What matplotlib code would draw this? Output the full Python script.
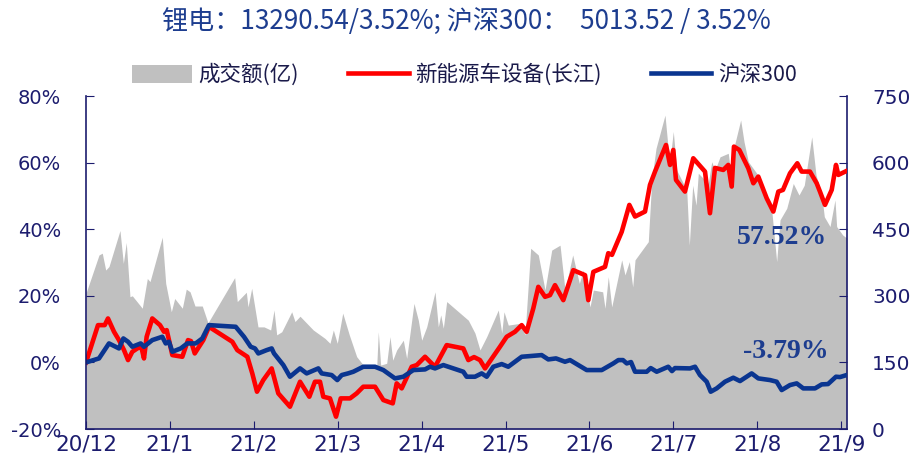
import matplotlib
matplotlib.use("Agg")
import matplotlib.pyplot as plt
from matplotlib.patches import Patch
from matplotlib.lines import Line2D

plt.rcParams['font.family'] = ['Noto Sans CJK SC', 'DejaVu Sans']

# time axis in months since 2020-12 (0 = 20/12, 9 = 21/9)
month_labels = ['20/12', '21/1', '21/2', '21/3', '21/4', '21/5', '21/6', '21/7', '21/8', '21/9']

# turnover (亿)
vol_t = [0.00, 0.155, 0.194, 0.235, 0.274, 0.405, 0.445, 0.48, 0.524, 0.552, 0.671, 0.731,
         0.763, 0.909, 0.95, 1.017, 1.057, 1.148, 1.195, 1.24, 1.299, 1.386, 1.454, 1.772,
         1.803, 1.911, 1.931, 1.975, 2.05, 2.122, 2.201, 2.241, 2.273, 2.333, 2.452, 2.491,
         2.551, 2.709, 2.849, 2.908, 2.948, 2.995, 3.06, 3.138, 3.226, 3.305, 3.465, 3.484,
         3.512, 3.584, 3.623, 3.656, 3.703, 3.782, 3.822, 3.909, 3.961, 4.001, 4.061, 4.16,
         4.199, 4.228, 4.259, 4.299, 4.557, 4.636, 4.696, 4.776, 4.914, 4.955, 4.982, 5.033,
         5.173, 5.232, 5.30, 5.391, 5.471, 5.551, 5.65, 5.709, 5.801, 5.88, 5.927, 6.007,
         6.047, 6.158, 6.186, 6.225, 6.266, 6.385, 6.424, 6.476, 6.516, 6.544, 6.702, 6.743,
         6.794, 6.901, 6.933, 6.961, 7.0, 7.041, 7.16, 7.191, 7.231, 7.271, 7.298, 7.417,
         7.458, 7.497, 7.557, 7.655, 7.684, 7.71, 7.803, 7.843, 7.894, 7.994, 8.073, 8.173,
         8.232, 8.272, 8.352, 8.43, 8.498, 8.561, 8.65, 8.701, 8.769, 8.8, 8.868, 8.927,
         8.947, 9.019, 9.067]
vol_v = [306, 392, 396, 358, 366, 447, 373, 420, 298, 300, 272, 339,
         332, 432, 328, 264, 294, 272, 315, 309, 277, 277, 239, 341,
         287, 308, 275, 317, 230, 230, 223, 268, 212, 219, 264, 242,
         254, 223, 204, 193, 223, 193, 261, 212, 163, 144, 140, 219,
         144, 148, 208, 155, 178, 200, 159, 283, 245, 200, 230, 309,
         230, 257, 227, 287, 245, 216, 178, 208, 268, 216, 264, 234,
         238, 212, 407, 392, 313, 403, 414, 313, 392, 328, 358, 275,
         313, 309, 272, 343, 275, 381, 347, 377, 320, 381, 422, 561,
         632, 707, 643, 606, 670, 583, 538, 414, 549, 504, 576, 553,
         602, 583, 613, 621, 579, 624, 696, 647, 602, 576, 546, 493,
         377, 471, 497, 553, 527, 549, 658, 572, 527, 478, 456, 516,
         456, 437, 430]

# 新能源车设备(长江), cumulative return %
ev_t = [0.0, 0.143, 0.223, 0.262, 0.334, 0.393, 0.453, 0.501, 0.552, 0.611, 0.659, 0.691,
        0.723, 0.79, 0.882, 0.93, 0.962, 0.989, 1.029, 1.148, 1.216, 1.251, 1.296, 1.398,
        1.466, 1.744, 1.803, 1.923, 1.982, 2.038, 2.113, 2.213, 2.292, 2.431, 2.551, 2.662,
        2.729, 2.789, 2.828, 2.908, 2.98, 3.036, 3.147, 3.226, 3.305, 3.445, 3.544, 3.656,
        3.703, 3.763, 3.882, 3.942, 4.041, 4.1, 4.16, 4.299, 4.497, 4.557, 4.625, 4.696,
        4.756, 4.934, 5.014, 5.113, 5.193, 5.252, 5.331, 5.391, 5.471, 5.53, 5.59, 5.689,
        5.808, 5.948, 5.987, 6.047, 6.186, 6.225, 6.269, 6.385, 6.476, 6.544, 6.663, 6.722,
        6.782, 6.913, 6.961, 7.0, 7.032, 7.139, 7.238, 7.378, 7.437, 7.497, 7.596, 7.655,
        7.696, 7.723, 7.787, 7.894, 7.954, 8.013, 8.113, 8.192, 8.252, 8.307, 8.391, 8.478,
        8.53, 8.629, 8.709, 8.748, 8.808, 8.888, 8.939, 8.967, 9.067]
ev_v = [0.0, 11.2, 11.2, 13.2, 9.2, 6.7, 3.7, 0.7, 3.2, 4.2, 4.7, 1.2,
        7.7, 13.2, 11.2, 9.2, 9.7, 6.7, 2.2, 1.7, 6.7, 6.4, 2.7, 6.7,
        10.7, 6.2, 3.7, 1.7, -3.3, -8.8, -5.3, -1.8, -9.3, -13.3, -5.8, -10.3,
        -5.8, -5.8, -10.3, -10.8, -16.3, -10.8, -10.8, -9.3, -7.3, -7.3, -11.3, -12.3,
        -6.3, -7.8, -1.3, -0.8, 1.7, 0.2, -1.3, 5.2, 4.2, 0.7, 1.6, 0.7,
        -1.8, 4.7, 7.7, 9.2, 11.2, 9.2, 16.2, 22.7, 19.7, 20.2, 23.2, 18.7,
        27.7, 26.2, 18.7, 27.2, 28.7, 32.8, 32.3, 39.2, 47.3, 43.8, 45.3, 53.3,
        57.3, 65.3, 59.3, 63.8, 54.8, 51.3, 61.3, 57.3, 44.8, 58.4, 57.8, 59.3,
        52.8, 64.8, 63.8, 58.3, 53.8, 55.8, 49.3, 45.3, 51.3, 51.8, 56.8, 59.8,
        57.3, 57.3, 53.8, 51.3, 47.3, 51.8, 59.3, 56.3, 57.52]

# 沪深300, cumulative return %
hs_t = [0.0, 0.155, 0.274, 0.393, 0.445, 0.501, 0.552, 0.652, 0.691, 0.79, 0.909, 0.95,
        0.989, 1.029, 1.129, 1.207, 1.307, 1.386, 1.466, 1.784, 1.883, 1.963, 2.014, 2.054,
        2.154, 2.213, 2.241, 2.352, 2.431, 2.551, 2.63, 2.769, 2.809, 2.928, 2.995, 3.048,
        3.123, 3.186, 3.305, 3.445, 3.544, 3.683, 3.782, 3.901, 4.041, 4.1, 4.16, 4.259,
        4.378, 4.497, 4.537, 4.636, 4.716, 4.776, 4.855, 4.955, 5.033, 5.193, 5.292, 5.431,
        5.51, 5.602, 5.709, 5.769, 5.868, 5.968, 6.147, 6.285, 6.345, 6.4, 6.445, 6.496,
        6.544, 6.683, 6.731, 6.802, 6.94, 6.984, 7.02, 7.199, 7.259, 7.318, 7.398, 7.446,
        7.517, 7.616, 7.715, 7.795, 7.874, 7.934, 8.013, 8.153, 8.232, 8.292, 8.391, 8.471,
        8.549, 8.689, 8.769, 8.844, 8.939, 8.987, 9.067]
hs_v = [0.0, 1.2, 5.7, 4.2, 7.2, 6.2, 4.7, 5.7, 4.7, 6.7, 7.7, 5.7,
        6.2, 3.2, 4.2, 5.7, 5.7, 7.2, 11.2, 10.7, 7.7, 4.7, 4.2, 2.7,
        3.7, 4.2, 2.7, -0.8, -4.3, -1.8, -3.3, -1.8, -3.3, -3.8, -5.3, -3.8,
        -3.3, -2.8, -1.3, -1.3, -2.3, -4.8, -4.3, -2.3, -2.1, -1.3, -1.8, -0.8,
        -1.8, -2.8, -4.3, -4.3, -3.3, -4.3, -1.3, -0.5, -1.3, 1.7, 1.9, 2.2,
        0.9, 1.2, 0.2, 0.7, -0.8, -2.3, -2.3, -0.3, 0.7, 0.7, -0.3, 0.1,
        -2.8, -2.8, -1.7, -2.8, -1.3, -2.6, -1.7, -1.8, -1.3, -3.8, -5.8, -8.8,
        -7.8, -5.8, -4.6, -5.6, -4.3, -3.3, -4.8, -5.3, -5.8, -8.3, -6.8, -6.3,
        -7.8, -7.8, -6.6, -6.5, -4.3, -4.4, -3.79]

navy = '#1c1c6e'
title_blue = '#1d3d8f'

fig = plt.figure(figsize=(9.12, 4.62), dpi=100)
ax = fig.add_axes([0.0943, 0.0714, 0.8344, 0.7208])
ax2 = ax.twinx()

ax2.fill_between(vol_t, vol_v, 0, color='#c0c0c0', lw=0)
ax2.set_ylim(0, 750)
ax2.set_yticks([0, 150, 300, 450, 600, 750])

ax.plot(ev_t, ev_v, color='#ff0000', lw=3.3, solid_joinstyle='round')
ax.plot(hs_t, hs_v, color='#0a3590', lw=3.3, solid_joinstyle='round')
ax.set_ylim(-20, 80)
ax.set_yticks(range(-20, 81, 20))
ax.set_yticklabels([f'{v}%' for v in range(-20, 81, 20)])
ax.set_xlim(0, 9.07)
ax.set_xticks(range(len(month_labels)))
ax.set_xticklabels(month_labels)

ax.set_zorder(ax2.get_zorder() + 1)
ax.patch.set_visible(False)

for a in (ax, ax2):
    a.spines['top'].set_visible(False)
    for s in ('left', 'right', 'bottom'):
        a.spines[s].set_color(navy)
        a.spines[s].set_linewidth(1.2)
ax.spines['right'].set_visible(False)
ax2.spines['left'].set_visible(False)
ax2.spines['bottom'].set_visible(False)

ax.tick_params(axis='y', direction='in', length=6, color=navy, labelcolor=navy, labelsize=14, pad=18)
ax.tick_params(axis='x', direction='in', length=6, color=navy, labelcolor=navy, labelsize=15.5, pad=4)
ax2.tick_params(axis='y', direction='in', length=6, color=navy, labelcolor=navy, labelsize=14.5, pad=18)
for lab in ax.get_yticklabels() + ax.get_xticklabels() + ax2.get_yticklabels():
    lab.set_family('DejaVu Sans')

ax.text(8.30, 37.4, '57.52%', color=title_blue, fontsize=20, fontweight='bold',
        family='Liberation Serif', ha='center', va='center')
ax.text(8.34, 3.4, '-3.79%', color=title_blue, fontsize=20, fontweight='bold',
        family='Liberation Serif', ha='center', va='center')

fig.text(0.511, 0.952, '锂电：13290.54/3.52%; 沪深300：  5013.52 / 3.52%', color=title_blue,
         fontsize=18.8, ha='center', va='center')

handles = [Patch(facecolor='#c0c0c0', edgecolor='none'),
           Line2D([], [], color='#ff0000', lw=3.3),
           Line2D([], [], color='#0a3590', lw=3.3)]
labels = ['成交额(亿)', '新能源车设备(长江)', '沪深300']
fig.legend(handles, labels, loc='center', bbox_to_anchor=(0.509, 0.838), ncol=3, frameon=False,
           fontsize=15.5, handlelength=2.8, handleheight=0.9, handletextpad=0.3, columnspacing=2.3,
           labelcolor='#1a1a4a')

fig.savefig('out.png', dpi=100)
